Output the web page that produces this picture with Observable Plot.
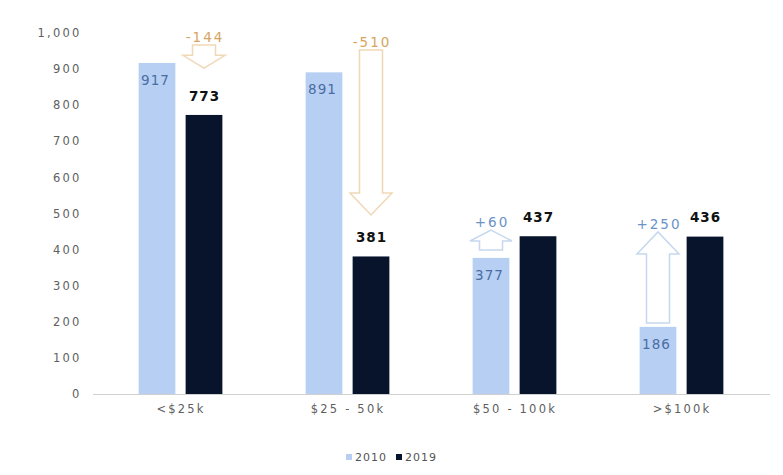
<!DOCTYPE html>
<html>
<head>
<meta charset="utf-8">
<script src="https://cdn.jsdelivr.net/npm/d3@7"></script>
<script src="https://cdn.jsdelivr.net/npm/@observablehq/plot@0.6"></script>
<style>
  html, body { margin: 0; padding: 0; background: #fff; }
  #chart { width: 783px; }
  #chart svg { letter-spacing: 2.2px; }
  #chart svg g[aria-label="text"] { letter-spacing: 1px; }
  #chart svg g.delta text { letter-spacing: 2px; }
  .legend { display: flex; justify-content: center; align-items: center; gap: 9px;
    font-family: "DejaVu Sans", sans-serif; font-size: 11px; letter-spacing: 1px; color: #555; margin-top: 19px; }
  .legend span.sw { display: inline-block; width: 6px; height: 6px; margin-right: 3px; vertical-align: middle; position: relative; top: -1px; }
</style>
</head>
<body>
<div id="chart"></div>
<script>
// ---- data ----
const categories = ["<$25k", "$25 - 50k", "$50 - 100k", ">$100k"];
const years = ["2010", "2019"];
const values2010 = [917, 891, 377, 186];
const values2019 = [773, 381, 437, 436];
const deltaLabels = ["-144", "-510", "+60", "+250"];
// arrow extents (value units): start -> tip, and the bar it sits over
const arrowFrom = [967, 953, 399, 197];
const arrowTo = [903, 496, 454, 449];
const arrowOver = ["2019", "2019", "2010", "2010"];
const yTicks = [0, 100, 200, 300, 400, 500, 600, 700, 800, 900, 1000];

// ---- styles ----
const colors = {"2010": "#b7cff2", "2019": "#07142b"};
const negText = "#d6a460", negStroke = "#efd8b6";
const posText = "#6a93c8", posStroke = "#c6d8ef";
const font = "'DejaVu Sans', sans-serif";

const rows = [];
categories.forEach((c, i) => {
  rows.push({cat: c, year: "2010", value: values2010[i]});
  rows.push({cat: c, year: "2019", value: values2019[i]});
});
const r2010 = rows.filter(d => d.year === "2010");
const r2019 = rows.filter(d => d.year === "2019");
const arrows = categories.map((c, i) => ({
  cat: c, from: arrowFrom[i], to: arrowTo[i], over: arrowOver[i], label: deltaLabels[i]
}));

// bar placement within each category band (pixels)
const BAR_W = 37, GAP = 10;
function barOffset(year, bw) {
  const groupW = BAR_W * 2 + GAP;
  const left = bw / 2 - groupW / 2;
  return year === "2010" ? left : left + BAR_W + GAP;
}

function arrowMark(index, scales) {
  const x = scales.x, y = scales.y;
  let bw = 0;
  if (typeof x.bandwidth === "function") bw = x.bandwidth();
  else if (scales.scales && scales.scales.x) bw = scales.scales.x.bandwidth;
  const g = d3.create("svg:g").attr("class", "delta");
  for (const a of arrows) {
    const cx = x(a.cat) + barOffset(a.over, bw) + BAR_W / 2;
    const y0 = y(a.from), y1 = y(a.to);
    const dir = y1 > y0 ? 1 : -1; // 1 = pointing down
    const len = Math.abs(y1 - y0);
    const head = Math.min(22, len * 0.55);
    const yb = y1 - dir * head;
    const sw = 23 / 2, hw = 42 / 2;
    const pts = [[cx - sw, y0], [cx + sw, y0], [cx + sw, yb], [cx + hw, yb], [cx, y1], [cx - hw, yb], [cx - sw, yb]];
    const neg = a.label.startsWith("-");
    g.append("path")
      .attr("d", "M" + pts.map(p => p.join(",")).join("L") + "Z")
      .attr("fill", "#fff")
      .attr("stroke", neg ? negStroke : posStroke)
      .attr("stroke-width", 1.5)
      .attr("stroke-linejoin", "miter");
    const top = Math.min(y0, y1);
    g.append("text")
      .attr("x", cx + 1).attr("y", top - 3)
      .attr("text-anchor", "middle")
      .attr("fill", neg ? negText : posText)
      .attr("font-family", font)
      .attr("font-size", 13.5)
      .text(a.label);
  }
  return g.node();
}

const BW_EST = (765 - 96) / categories.length;
function labelDx(year) { return barOffset(year, BW_EST) + BAR_W / 2 - BW_EST / 2; }

const chart = Plot.plot({
  width: 783,
  height: 432,
  marginLeft: 96,
  marginRight: 18,
  marginTop: 33,
  marginBottom: 38,
  style: {fontFamily: font, background: "#fff"},
  x: {domain: categories, padding: 0, label: null},
  y: {domain: [0, 1000], label: null},
  marks: [
    Plot.axisY({ticks: yTicks, tickFormat: d3.format(","), tickSize: 0, tickPadding: 15, fontSize: 11.5, color: "#606060", label: null}),
    Plot.axisX({tickSize: 0, tickPadding: 10, fontSize: 11.5, color: "#606060", label: null}),
    Plot.barY(r2010, {x: "cat", y: "value", fill: colors["2010"],
      insetLeft: barOffset("2010", BW_EST), insetRight: BW_EST - barOffset("2010", BW_EST) - BAR_W}),
    Plot.barY(r2019, {x: "cat", y: "value", fill: colors["2019"],
      insetLeft: barOffset("2019", BW_EST), insetRight: BW_EST - barOffset("2019", BW_EST) - BAR_W}),
    Plot.ruleY([0], {stroke: "#d0d0d0", strokeWidth: 1.2, insetLeft: -3, insetRight: -5}),
    Plot.text(r2010, {x: "cat", y: "value", text: d => String(d.value), dx: labelDx("2010") - 2, dy: 17,
      fill: "#4a6da3", fontSize: 13.5}),
    Plot.text(r2019, {x: "cat", y: "value", text: d => String(d.value), dx: labelDx("2019"), dy: -19,
      fill: "#111", fontSize: 13.5, fontWeight: "bold"}),
    arrowMark
  ]
});
document.getElementById("chart").appendChild(chart);

const legend = document.createElement("div");
legend.className = "legend";
legend.innerHTML = years.map(yv =>
  `<span><span class="sw" style="background:${colors[yv]}"></span>${yv}</span>`).join("");
document.getElementById("chart").appendChild(legend);
</script>
</body>
</html>
